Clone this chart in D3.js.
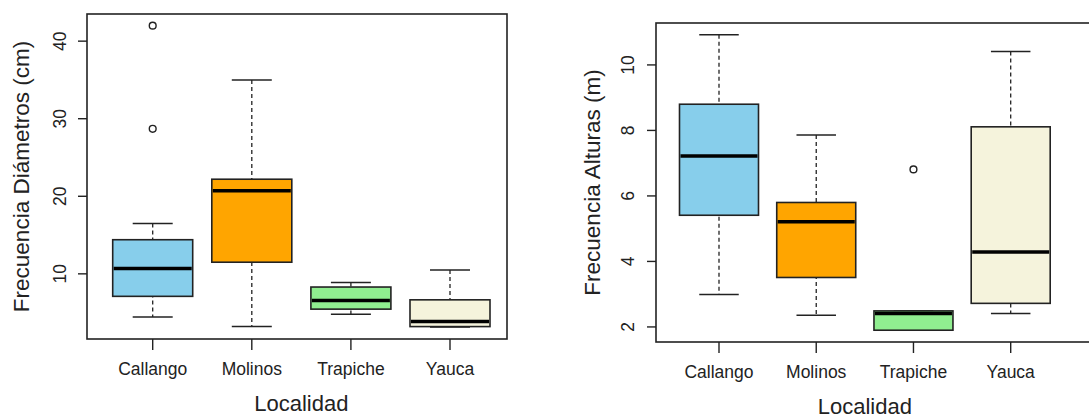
<html>
<head>
<meta charset="utf-8">
<script src="https://d3js.org/d3.v7.min.js"></script>
<style>
  body { margin: 0; background: #fff; }
  text { font-family: "Liberation Sans", Arial, sans-serif; fill: #222; }
</style>
</head>
<body>
<script>
    var width = 1089
    var height = 418

    // datos: [min bigote, Q1, mediana, Q3, max bigote]
    var localidades = ['Callango', 'Molinos', 'Trapiche', 'Yauca']
    var colores = ['#87CEEB', '#FFA500', '#90EE90', '#F5F3DC']

    var diametros = [[4.45, 7.1, 10.7, 14.4, 16.5],
                     [3.2, 11.5, 20.7, 22.2, 35.0],
                     [4.8, 5.45, 6.55, 8.3, 8.9],
                     [3.15, 3.2, 3.85, 6.65, 10.5]]
    var diametrosAtipicos = [[42.0, 28.7], [], [], []]
    var diametrosTicks = [10, 20, 30, 40]

    var alturas = [[2.99, 5.41, 7.22, 8.8, 10.92],
                   [2.36, 3.51, 5.21, 5.8, 7.86],
                   [1.9, 1.9, 2.41, 2.49, 2.49],
                   [2.41, 2.72, 4.29, 8.11, 10.41]]
    var alturasAtipicos = [[], [], [6.81], []]
    var alturasTicks = [2, 4, 6, 8, 10]

    var svg = d3.select('body').append('svg').attr('width', width).attr('height', height)

    panel({
        stats: diametros, outliers: diametrosAtipicos, ticks: diametrosTicks,
        ylab: 'Frecuencia Diámetros (cm)',
        frame: [87, 14, 507, 339], yDomain: [1.6, 43.5], xRange: [152.7, 450],
        boxW: 80, ylabX: 21, tickLabX: 60
    })
    panel({
        stats: alturas, outliers: alturasAtipicos, ticks: alturasTicks,
        ylab: 'Frecuencia Alturas (m)',
        frame: [656, 23, 1095, 342], yDomain: [1.54, 11.28], xRange: [719, 1010.7],
        boxW: 79, ylabX: 592, tickLabX: 628
    })

    function panel(o) {
        var L = o.frame[0], T = o.frame[1], R = o.frame[2], B = o.frame[3]
        var g = svg.append('g')
        var x = d3.scalePoint().domain(localidades).range(o.xRange)
        var y = d3.scaleLinear().domain(o.yDomain).range([B, T])
        var bw = o.boxW

        var grp = g.selectAll('g.caja').data(localidades).enter().append('g').attr('class', 'caja')

        // bigotes
        grp.append('line')
            .attr('x1', function(d){return x(d)}).attr('x2', function(d){return x(d)})
            .attr('y1', function(d,i){return y(o.stats[i][4])}).attr('y2', function(d,i){return y(o.stats[i][0])})
            .attr('stroke', '#222').attr('stroke-width', 1.3).attr('stroke-dasharray', '4,3')
        ;[0, 4].forEach(function(k){
            grp.append('line')
                .attr('x1', function(d){return x(d) - bw/4}).attr('x2', function(d){return x(d) + bw/4})
                .attr('y1', function(d,i){return y(o.stats[i][k])}).attr('y2', function(d,i){return y(o.stats[i][k])})
                .attr('stroke', '#222').attr('stroke-width', 1.5)
        })

        // cajas
        grp.append('rect')
            .attr('x', function(d){return x(d) - bw/2}).attr('width', bw)
            .attr('y', function(d,i){return y(o.stats[i][3])})
            .attr('height', function(d,i){return y(o.stats[i][1]) - y(o.stats[i][3])})
            .attr('fill', function(d,i){return colores[i]})
            .attr('stroke', '#222').attr('stroke-width', 1.6)
        grp.append('line')
            .attr('x1', function(d){return x(d) - bw/2 + 1}).attr('x2', function(d){return x(d) + bw/2 - 1})
            .attr('y1', function(d,i){return y(o.stats[i][2])}).attr('y2', function(d,i){return y(o.stats[i][2])})
            .attr('stroke', '#000').attr('stroke-width', 3.5)

        // atipicos
        grp.each(function(d, i) {
            d3.select(this).selectAll('circle').data(o.outliers[i]).enter().append('circle')
                .attr('cx', x(d)).attr('cy', function(v){return y(v)}).attr('r', 3.4)
                .attr('fill', 'none').attr('stroke', '#222').attr('stroke-width', 1.4)
        })

        // marco
        g.append('rect').attr('x', L).attr('y', T).attr('width', R - L).attr('height', B - T)
            .attr('fill', 'none').attr('stroke', '#222').attr('stroke-width', 1.6)

        // eje y
        g.selectAll('line.ytick').data(o.ticks).enter().append('line').attr('class', 'ytick')
            .attr('x1', L - 9).attr('x2', L).attr('y1', function(d){return y(d)}).attr('y2', function(d){return y(d)})
            .attr('stroke', '#222').attr('stroke-width', 1.4)
        g.selectAll('text.ytick').data(o.ticks).enter().append('text').attr('class', 'ytick')
            .attr('transform', function(d){return 'translate(' + o.tickLabX + ',' + y(d) + ') rotate(-90)'})
            .attr('text-anchor', 'middle').attr('dy', '0.36em').attr('font-size', 17.5)
            .text(function(d){return d})

        // eje x
        g.selectAll('line.xtick').data(localidades).enter().append('line').attr('class', 'xtick')
            .attr('x1', function(d){return x(d)}).attr('x2', function(d){return x(d)})
            .attr('y1', B).attr('y2', B + 11)
            .attr('stroke', '#222').attr('stroke-width', 1.4)
        g.selectAll('text.xtick').data(localidades).enter().append('text').attr('class', 'xtick')
            .attr('x', function(d){return x(d)}).attr('y', B + 36)
            .attr('text-anchor', 'middle').attr('font-size', 17.5)
            .text(function(d){return d})

        // titulos
        var xm = (o.xRange[0] + o.xRange[1]) / 2
        g.append('text').attr('x', xm).attr('y', B + 72)
            .attr('text-anchor', 'middle').attr('font-size', 22).text('Localidad')
        g.append('text')
            .attr('transform', 'translate(' + o.ylabX + ',' + (T + B) / 2 + ') rotate(-90)')
            .attr('text-anchor', 'middle').attr('dy', '0.36em').attr('font-size', 22.5)
            .text(o.ylab)
    }
</script>
</body>
</html>
